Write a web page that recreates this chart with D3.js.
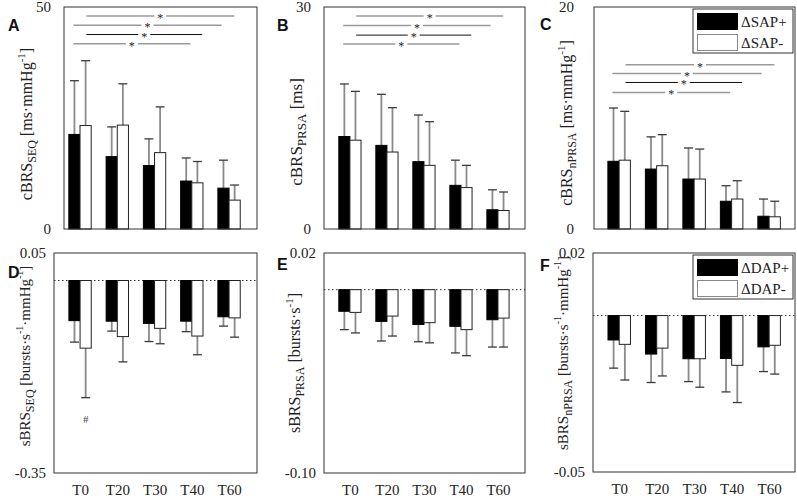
<!DOCTYPE html>
<html>
<head>
<meta charset="utf-8">
<script src="https://cdn.jsdelivr.net/npm/d3@7"></script>
<style>
  html, body { margin: 0; padding: 0; background: #fff; }
  svg { display: block; }
</style>
</head>
<body>
<svg id="chart" width="797" height="499" font-family="Liberation Serif, Times New Roman, serif"></svg>
<script>
// ---------------- DATA ----------------
const categories = ["T0", "T20", "T30", "T40", "T60"];

// Panel A: cBRS_SEQ
const cbrsSeqPos     = [21.3, 16.3, 14.3, 10.8, 9.2];
const cbrsSeqPosSD   = [12.1, 6.7, 6.0, 5.2, 6.3];
const cbrsSeqNeg     = [23.3, 23.4, 17.2, 10.4, 6.5];
const cbrsSeqNegSD   = [14.6, 9.3, 10.3, 4.8, 3.4];

// Panel B: cBRS_PRSA
const cbrsPrsaPos    = [12.5, 11.3, 9.1, 5.9, 2.6];
const cbrsPrsaPosSD  = [7.1, 6.9, 6.3, 3.4, 2.7];
const cbrsPrsaNeg    = [12.0, 10.4, 8.6, 5.6, 2.5];
const cbrsPrsaNegSD  = [6.6, 6.0, 5.9, 3.0, 2.5];

// Panel C: cBRS_nPRSA
const cbrsNprsaPos   = [6.1, 5.4, 4.5, 2.5, 1.15];
const cbrsNprsaPosSD = [4.8, 2.9, 2.8, 1.4, 1.55];
const cbrsNprsaNeg   = [6.2, 5.7, 4.5, 2.7, 1.1];
const cbrsNprsaNegSD = [4.4, 2.8, 2.7, 1.65, 1.4];

// Panel D: sBRS_SEQ
const sbrsSeqPos     = [-0.073, -0.074, -0.078, -0.074, -0.066];
const sbrsSeqPosSD   = [0.039, 0.018, 0.033, 0.019, 0.017];
const sbrsSeqNeg     = [-0.123, -0.102, -0.087, -0.101, -0.068];
const sbrsSeqNegSD   = [0.090, 0.046, 0.028, 0.034, 0.035];

// Panel E: sBRS_PRSA
const sbrsPrsaPos    = [-0.0118, -0.0173, -0.019, -0.020, -0.0164];
const sbrsPrsaPosSD  = [0.0100, 0.0107, 0.0094, 0.0145, 0.0149];
const sbrsPrsaNeg    = [-0.0124, -0.0144, -0.018, -0.0218, -0.0155];
const sbrsPrsaNegSD  = [0.0112, 0.0109, 0.0110, 0.0142, 0.0158];

// Panel F: sBRS_nPRSA
const sbrsNprsaPos   = [-0.0078, -0.0123, -0.0138, -0.0137, -0.0100];
const sbrsNprsaPosSD = [0.0090, 0.0091, 0.0073, 0.0107, 0.0079];
const sbrsNprsaNeg   = [-0.0092, -0.0104, -0.0138, -0.0159, -0.0095];
const sbrsNprsaNegSD = [0.0114, 0.0089, 0.0091, 0.0119, 0.0092];

// Significance brackets: [from category index, to category index]
const sigSpans = [[0.17, 4.14], [-0.18, 3.80], [0.17, 3.28], [-0.18, 2.96]];
const sigDark  = [false, false, true, false];
const sigLevelsA = [48.0, 45.9, 43.8, 41.7];
const sigLevelsB = [28.8, 27.5, 26.2, 25.0];
const sigLevelsC = [14.8, 14.0, 13.2, 12.3];

// "#" marker in panel D (T0, ΔSAP-)
const hashMarkD = { cat: 0, value: -0.252 };

const legendTop = ["\u0394SAP+", "\u0394SAP-"];
const legendBottom = ["\u0394DAP+", "\u0394DAP-"];

// ---------------- LAYOUT ----------------
const DOT = "\u00b7";
const panels = [
  { letter: "A", box: [64, 257, 7, 229], xdom: [-0.43, 4.75], ydom: [0, 50], fmt: d => String(d), pad: 13,
    pos: cbrsSeqPos, posSD: cbrsSeqPosSD, neg: cbrsSeqNeg, negSD: cbrsSeqNegSD, sig: sigLevelsA,
    label: [["cBRS", ""], ["SEQ", "sub"], [" [ms" + DOT + "mmHg", ""], ["-1", "sup"], ["]", ""]],
    labelPos: [32, 124], labelSize: 16, letterPos: [8, 31] },
  { letter: "B", box: [324, 525, 7, 229], xdom: [-0.70, 4.73], ydom: [0, 30], fmt: d => String(d), pad: 13,
    pos: cbrsPrsaPos, posSD: cbrsPrsaPosSD, neg: cbrsPrsaNeg, negSD: cbrsPrsaNegSD, sig: sigLevelsB,
    label: [["cBRS", ""], ["PRSA", "sub"], [" [ms]", ""]],
    labelPos: [302, 132], labelSize: 17, letterPos: [277, 31] },
  { letter: "C", box: [594, 795, 7, 229], xdom: [-0.67, 4.69], ydom: [0, 20], fmt: d => String(d), pad: 20,
    pos: cbrsNprsaPos, posSD: cbrsNprsaPosSD, neg: cbrsNprsaNeg, negSD: cbrsNprsaNegSD, sig: sigLevelsC,
    label: [["cBRS", ""], ["nPRSA", "sub"], [" [ms" + DOT + "mmHg", ""], ["-1", "sup"], ["]", ""]],
    labelPos: [572, 123], labelSize: 16, letterPos: [540, 30], legend: legendTop },
  { letter: "D", box: [54, 257, 253, 473], xdom: [-0.70, 4.75], ydom: [-0.35, 0.05], fmt: d => d.toFixed(2), pad: 8,
    pos: sbrsSeqPos, posSD: sbrsSeqPosSD, neg: sbrsSeqNeg, negSD: sbrsSeqNegSD,
    label: [["sBRS", ""], ["SEQ", "sub"], [" [bursts" + DOT + "s", ""], ["-1", "sup"], [DOT + "mmHg", ""], ["-1", "sup"], ["]", ""]],
    labelPos: [30, 356], labelSize: 15, letterPos: [8, 278], xaxis: true, zero: true, hash: hashMarkD },
  { letter: "E", box: [324, 525, 253, 473], xdom: [-0.70, 4.73], ydom: [-0.10, 0.02], fmt: d => d.toFixed(2), pad: 8,
    pos: sbrsPrsaPos, posSD: sbrsPrsaPosSD, neg: sbrsPrsaNeg, negSD: sbrsPrsaNegSD,
    label: [["sBRS", ""], ["PRSA", "sub"], [" [bursts" + DOT + "s", ""], ["-1", "sup"], ["]", ""]],
    labelPos: [300, 363], labelSize: 16, letterPos: [277, 270], xaxis: true, zero: true },
  { letter: "F", box: [593, 795, 253, 472], xdom: [-0.70, 4.69], ydom: [-0.05, 0.02], fmt: d => d.toFixed(2), pad: 8,
    pos: sbrsNprsaPos, posSD: sbrsNprsaPosSD, neg: sbrsNprsaNeg, negSD: sbrsNprsaNegSD,
    label: [["sBRS", ""], ["nPRSA", "sub"], [" [bursts" + DOT + "s", ""], ["-1", "sup"], [DOT + "mmHg", ""], ["-1", "sup"], ["]", ""]],
    labelPos: [568, 353], labelSize: 15, letterPos: [540, 271], xaxis: true, zero: true, legend: legendBottom }
];

const svg = d3.select("#chart");
const halfW = 0.3;   // bar width in category units
const capW = 0.12;   // half cap width in category units

panels.forEach(p => {
  const [l, r, t, b] = p.box;
  const x = d3.scaleLinear().domain(p.xdom).range([l, r]);
  const y = d3.scaleLinear().domain(p.ydom).range([b, t]);
  const g = svg.append("g");

  // zero reference line
  if (p.zero) {
    g.append("line")
      .attr("x1", l).attr("x2", r).attr("y1", y(0)).attr("y2", y(0))
      .attr("stroke", "#333").attr("stroke-width", 1).attr("stroke-dasharray", "1.5,2.5");
  }

  const series = [
    { vals: p.pos, sd: p.posSD, off: -halfW, fill: "#000", stroke: "#000" },
    { vals: p.neg, sd: p.negSD, off: 0, fill: "#fff", stroke: "#222" }
  ];

  series.forEach(s => {
    const data = s.vals.map((v, i) => ({ i, v, sd: s.sd[i] }));
    const eg = g.append("g");
    data.forEach(d => {
      const cx = x(d.i + s.off + halfW / 2);
      const end = d.v >= 0 ? d.v + d.sd : d.v - d.sd;
      eg.append("line")
        .attr("x1", cx).attr("x2", cx).attr("y1", y(d.v)).attr("y2", y(end))
        .attr("stroke", "#8a8a8a").attr("stroke-width", 1.8);
      eg.append("line")
        .attr("x1", x(d.i + s.off + halfW / 2 - capW)).attr("x2", x(d.i + s.off + halfW / 2 + capW))
        .attr("y1", y(end)).attr("y2", y(end))
        .attr("stroke", "#3a3a3a").attr("stroke-width", 1.3);
    });
    g.append("g").selectAll("rect").data(data).join("rect")
      .attr("x", d => x(d.i + s.off))
      .attr("width", d => x(d.i + s.off + halfW) - x(d.i + s.off))
      .attr("y", d => Math.min(y(d.v), y(0)))
      .attr("height", d => Math.abs(y(d.v) - y(0)))
      .attr("fill", s.fill).attr("stroke", s.stroke).attr("stroke-width", 1);
  });

  // significance brackets
  if (p.sig) {
    p.sig.forEach((lv, k) => {
      const [a, c] = sigSpans[k];
      const yy = y(lv);
      const mid = (x(a) + x(c)) / 2;
      const col = sigDark[k] ? "#111" : "#9a9a9a";
      const sw = sigDark[k] ? 1 : 1.5;
      g.append("line").attr("x1", x(a)).attr("x2", mid - 6).attr("y1", yy).attr("y2", yy)
        .attr("stroke", col).attr("stroke-width", sw);
      g.append("line").attr("x1", mid + 6).attr("x2", x(c)).attr("y1", yy).attr("y2", yy)
        .attr("stroke", col).attr("stroke-width", sw);
      g.append("text").attr("x", mid).attr("y", yy + 6)
        .attr("text-anchor", "middle").attr("font-size", 12).attr("fill", "#222").text("*");
    });
  }

  // hash marker
  if (p.hash) {
    g.append("text").attr("x", x(p.hash.cat + halfW / 2)).attr("y", y(p.hash.value))
      .attr("text-anchor", "middle").attr("dominant-baseline", "central")
      .attr("font-size", 11).attr("fill", "#444").text("#");
  }

  // plot frame
  g.append("rect").attr("x", l).attr("y", t).attr("width", r - l).attr("height", b - t)
    .attr("fill", "none").attr("stroke", "#333").attr("stroke-width", 1);

  // y axis (end labels only)
  const ya = g.append("g").attr("transform", `translate(${l},0)`)
    .call(d3.axisLeft(y).tickValues(p.ydom).tickSize(0).tickPadding(p.pad).tickFormat(p.fmt));
  ya.select(".domain").remove();
  ya.attr("font-family", "Liberation Serif, serif").attr("font-size", 15);
  ya.selectAll("text").attr("fill", "#222");

  // x axis
  if (p.xaxis) {
    const xa = g.append("g").attr("transform", `translate(0,${b})`)
      .call(d3.axisBottom(x).tickValues(d3.range(categories.length)).tickSize(0).tickPadding(11)
        .tickFormat(i => categories[i]));
    xa.select(".domain").remove();
    xa.attr("font-family", "Liberation Serif, serif").attr("font-size", 15);
    xa.selectAll("text").attr("fill", "#222");
  }

  // y label
  const fs = p.labelSize;
  const lab = g.append("text")
    .attr("transform", `translate(${p.labelPos[0]},${p.labelPos[1]}) rotate(-90)`)
    .attr("text-anchor", "middle").attr("font-size", fs).attr("fill", "#222");
  p.label.forEach(([txt, kind]) => {
    const ts = lab.append("tspan").text(txt);
    if (kind === "sub") ts.attr("font-size", Math.round(fs * 0.78)).attr("baseline-shift", -Math.round(fs * 0.25));
    if (kind === "sup") ts.attr("font-size", Math.round(fs * 0.68)).attr("baseline-shift", Math.round(fs * 0.44));
  });

  // panel letter
  g.append("text").attr("x", p.letterPos[0]).attr("y", p.letterPos[1])
    .attr("font-family", "Liberation Sans, Arial, sans-serif").attr("font-weight", "bold")
    .attr("font-size", 16).attr("fill", "#111").text(p.letter);

  // legend
  if (p.legend) {
    const lx = r - 102, ly = t + 2;
    const lg = g.append("g").attr("transform", `translate(${lx},${ly})`);
    lg.append("rect").attr("x", 0).attr("y", 0).attr("width", 100).attr("height", 44)
      .attr("fill", "#fff").attr("stroke", "#333").attr("stroke-width", 1);
    p.legend.forEach((name, k) => {
      lg.append("rect").attr("x", 4.5).attr("y", 4.5 + k * 21).attr("width", 40).attr("height", 16)
        .attr("fill", k === 0 ? "#000" : "#fff").attr("stroke", k === 0 ? "#000" : "#888");
      lg.append("text").attr("x", 48).attr("y", 17.5 + k * 21)
        .attr("font-size", 15).attr("fill", "#222").text(name);
    });
  }
});
</script>
</body>
</html>
